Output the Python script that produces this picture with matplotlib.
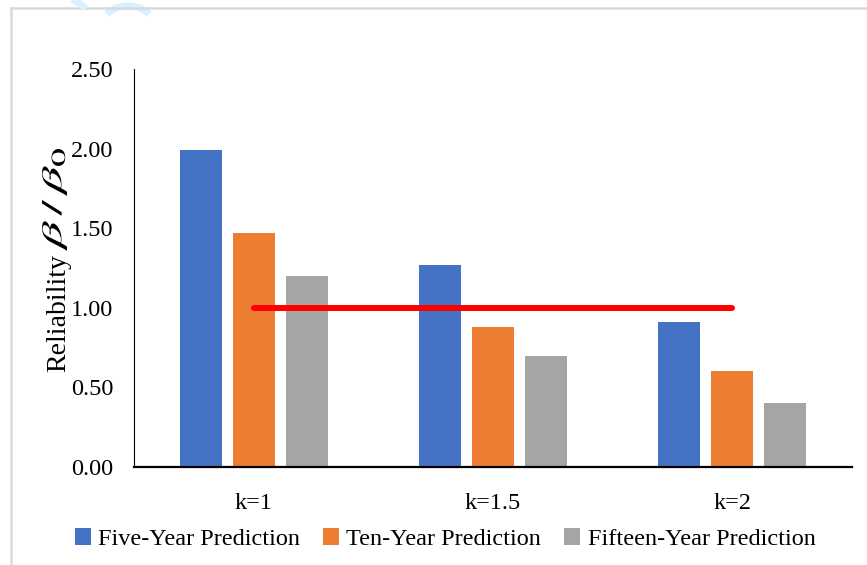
import matplotlib
matplotlib.use("Agg")
import matplotlib.pyplot as plt
import numpy as np
from matplotlib.lines import Line2D
from matplotlib.patches import PathPatch, Arc
from matplotlib.textpath import TextPath
from matplotlib.font_manager import FontProperties
from matplotlib.transforms import Affine2D

plt.rcParams['font.family'] = ['Liberation Serif', 'DejaVu Serif']

# ---- data ----
categories = ["k=1", "k=1.5", "k=2"]
series_names = ["Five-Year Prediction", "Ten-Year Prediction", "Fifteen-Year Prediction"]
five_year = [1.99, 1.27, 0.91]
ten_year = [1.47, 0.88, 0.60]
fifteen_year = [1.20, 0.70, 0.40]
threshold = 1.0
y_ticks = [0.0, 0.5, 1.0, 1.5, 2.0, 2.5]

colors = ["#4472C4", "#ED7D31", "#A5A5A5"]

W, H, DPI = 867, 565, 100
fig = plt.figure(figsize=(W / DPI, H / DPI), dpi=DPI)
fig.patch.set_facecolor("white")

ax = fig.add_axes([134 / W, (H - 467) / H, (852 - 134) / W, (467 - 69) / H])

x = np.arange(len(categories))
bar_w = 0.1755
step = 0.2215
handles = []
for i, (vals, name, c) in enumerate(zip([five_year, ten_year, fifteen_year], series_names, colors)):
    h = ax.bar(x + (i - 1) * step, vals, width=bar_w, color=c, label=name, zorder=2)
    handles.append(h)

# reference level line
ax.plot([x[0], x[-1]], [threshold, threshold], color="#FF0000", lw=4.3,
        solid_capstyle="round", zorder=3)

ax.set_xlim(-0.5, len(categories) - 0.5)
ax.set_ylim(0, 2.5)
ax.set_yticks(y_ticks)
ax.set_yticklabels([f"{v:.2f}" for v in y_ticks])
ax.set_xticks(x)
ax.set_xticklabels(categories)
ax.tick_params(axis="y", length=0, pad=15, labelsize=17.5, colors="black")
ax.tick_params(axis="x", length=0, pad=19, labelsize=17.5, colors="black")

for s in ["top", "right"]:
    ax.spines[s].set_visible(False)
ax.spines["left"].set_linewidth(0.8)
ax.spines["bottom"].set_linewidth(1.6)
ax.spines["left"].set_color("black")
ax.spines["bottom"].set_color("black")

# y-axis title: plain word plus a widened math symbol group
fig.text(65 / W, (H - 372) / H, "Reliability", rotation=90, rotation_mode="anchor",
         ha="left", va="baseline", fontsize=20, color="black")

tp = TextPath((0, 0), r"$\beta\,/\,\beta_0$", size=10,
              prop=FontProperties(family="Liberation Serif", math_fontfamily="stix"))
ext = tp.get_extents()
L_px, H_px = 102.0, 25.0
sx = L_px / ext.width
sy = H_px / ext.height
tr = (Affine2D().translate(-ext.x0, -ext.y0).scale(sx, sy).rotate_deg(90)
      .translate(67, H - 251).scale(1 / DPI) + fig.dpi_scale_trans)
fig.add_artist(PathPatch(tp, transform=tr, facecolor="black", edgecolor="none"))

# legend
fig.legend(handles=handles, labels=series_names, loc="center",
           bbox_to_anchor=(445 / W, (H - 539) / H), ncol=3, frameon=False,
           fontsize=17.5, handlelength=0.66, handleheight=0.66,
           handletextpad=0.3, columnspacing=0.95)

# outer frame (left and top edges)
frame_kw = dict(color="#D9D9D9", lw=1.8, transform=fig.transFigure)
fig.add_artist(Line2D([11 / W, 11 / W], [0, (H - 8) / H], **frame_kw))
fig.add_artist(Line2D([11 / W, 1], [(H - 8) / H, (H - 8) / H], **frame_kw))

# faint cyan strokes along the top edge
px = Affine2D().scale(1 / DPI) + fig.dpi_scale_trans
fig.add_artist(Line2D([68, 86], [H + 4, H - 8], color="#D6F1FF", lw=5,
                      transform=px, solid_capstyle="butt"))
fig.add_artist(Arc((128, H - 24), 50, 36, theta1=25, theta2=155,
                   color="#D6F1FF", lw=5, transform=px))

fig.savefig("out.png", dpi=DPI, facecolor="white")
